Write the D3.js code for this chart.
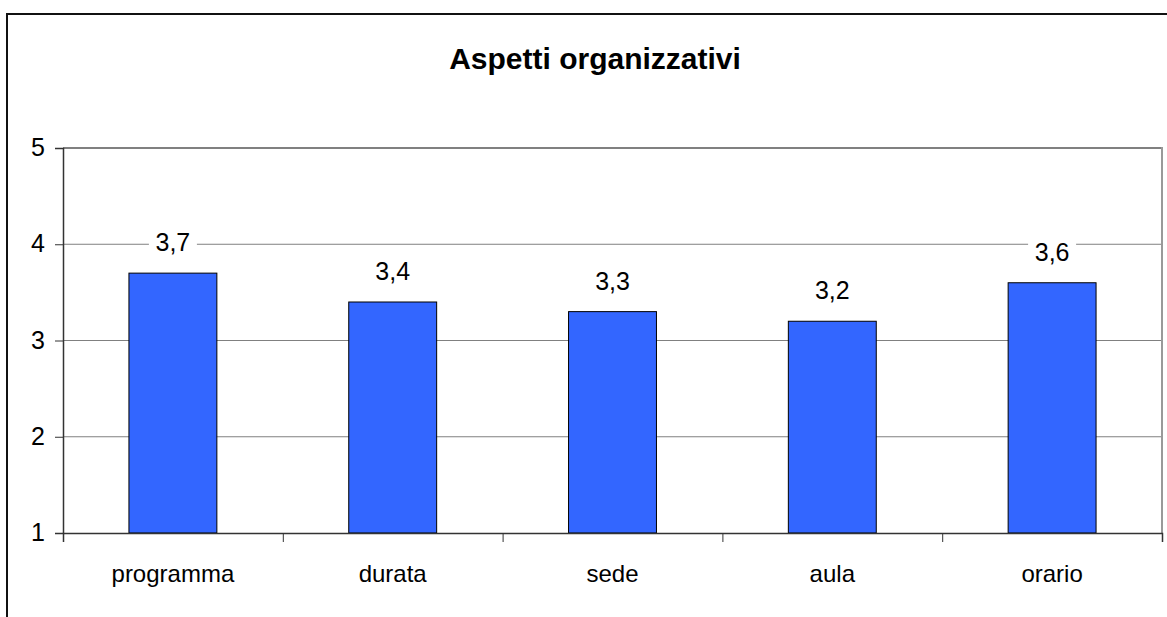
<!DOCTYPE html>
<meta charset="utf-8">
<html>
<head>
  <script src="https://d3js.org/d3.v7.min.js"></script>
</head>
<style>
body { margin: 0; background: #fff; }
svg { font-family: "Liberation Sans", Arial, sans-serif; }
</style>
<body>
  <div id="chart"></div>
  <script>
var categories = ["programma", "durata", "sede", "aula", "orario"];
var values = [3.7, 3.4, 3.3, 3.2, 3.6];
var yTicks = [1, 2, 3, 4, 5];
var title = "Aspetti organizzativi";

var width = 1167, height = 617;
var plot = {left: 63, right: 1162, top: 148, bottom: 533};

var svg = d3.select("#chart").append("svg")
  .attr("width", width)
  .attr("height", height);

// outer frame (runs past the window on the right and bottom)
svg.append("rect")
  .attr("x", 7).attr("y", 14)
  .attr("width", 1300).attr("height", 700)
  .attr("fill", "#fff")
  .attr("stroke", "#111")
  .attr("stroke-width", 2);

svg.append("text")
  .attr("x", 595).attr("y", 69)
  .attr("text-anchor", "middle")
  .style("font-size", "30px")
  .style("font-weight", "bold")
  .text(title);

var x = d3.scaleBand()
  .domain(categories)
  .range([plot.left, plot.right])
  .paddingInner(0.6)
  .paddingOuter(0.3);

var xEdges = d3.scaleLinear()
  .domain([0, categories.length])
  .range([plot.left, plot.right]);

var y = d3.scaleLinear()
  .domain([1, 5])
  .range([plot.bottom, plot.top]);

// gridlines
svg.append("g")
  .selectAll("line")
  .data(yTicks.slice(1))
  .enter().append("line")
    .attr("x1", plot.left).attr("x2", plot.right)
    .attr("y1", d => y(d)).attr("y2", d => y(d))
    .attr("stroke", "#808080")
    .attr("stroke-width", d => d === 5 ? 2 : 1);

// plot border right side
svg.append("line")
  .attr("x1", plot.right).attr("x2", plot.right)
  .attr("y1", plot.top - 1).attr("y2", plot.bottom)
  .attr("stroke", "#999")
  .attr("stroke-width", 2);

// bars
svg.append("g")
  .selectAll("rect")
  .data(values)
  .enter().append("rect")
    .attr("x", (d, i) => x(categories[i]))
    .attr("y", d => y(d))
    .attr("width", x.bandwidth())
    .attr("height", d => y(1) - y(d))
    .attr("fill", "#3366FF")
    .attr("stroke", "#000")
    .attr("stroke-width", 1);

// value labels with white backing
var lbl = svg.append("g")
  .selectAll("g")
  .data(values)
  .enter().append("g")
    .attr("transform", (d, i) => `translate(${x(categories[i]) + x.bandwidth() / 2},${y(d) - 22})`);
lbl.append("rect")
  .attr("x", -24).attr("y", -22)
  .attr("width", 48).attr("height", 28)
  .attr("fill", "#fff");
lbl.append("text")
  .attr("text-anchor", "middle")
  .style("font-size", "25px")
  .text(d => d3.format(".1f")(d).replace(".", ","));

// y axis
var yAxis = d3.axisLeft(y).tickValues(yTicks).tickSize(8).tickPadding(10).tickFormat(d3.format("d"));
var gy = svg.append("g")
  .attr("transform", `translate(${plot.left},0)`)
  .call(yAxis);
gy.select(".domain").attr("stroke", "#333").attr("stroke-width", 1.5);
gy.selectAll(".tick line").attr("stroke", "#333");
gy.selectAll(".tick text")
  .style("font-size", "25px")
  .attr("fill", "#000")
  .attr("dy", "0.3em");

// x axis: ticks at category boundaries
var xAxis = d3.axisBottom(xEdges).tickValues(d3.range(categories.length + 1)).tickSize(9).tickFormat("");
var gx = svg.append("g")
  .attr("transform", `translate(0,${plot.bottom})`)
  .call(xAxis);
gx.select(".domain").attr("stroke", "#333").attr("stroke-width", 1.5);
gx.selectAll(".tick line").attr("stroke", "#333");

svg.append("g")
  .selectAll("text")
  .data(categories)
  .enter().append("text")
    .attr("x", d => x(d) + x.bandwidth() / 2)
    .attr("y", 582)
    .attr("text-anchor", "middle")
    .style("font-size", "24px")
    .text(d => d);
  </script>
</body>
</html>
